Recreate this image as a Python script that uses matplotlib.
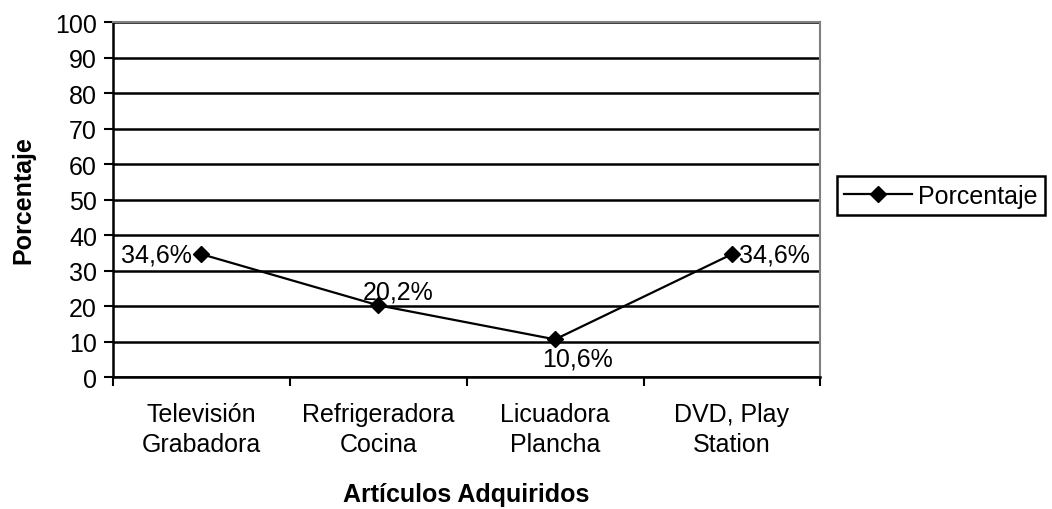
import numpy as np
import matplotlib.pyplot as plt
from matplotlib.ticker import FixedLocator

plt.rcParams['font.family'] = ['Liberation Sans', 'DejaVu Sans']

# Artículos adquiridos y porcentajes
categorias = ['Televisión\nGrabadora', 'Refrigeradora\nCocina', 'Licuadora\nPlancha', 'DVD, Play\nStation']
porcentajes = [34.6, 20.2, 10.6, 34.6]
etiquetas = ['34,6%', '20,2%', '10,6%', '34,6%']

FS = 18

fig = plt.figure(figsize=(10.52, 5.10), dpi=100)
ax = fig.add_axes([0.1074, 0.2588, 0.6724, 0.6961])

x = np.arange(len(categorias))
ax.plot(x, porcentajes, color='black', lw=1.6, marker='D', ms=8.5, label='Porcentaje', zorder=3)

# data labels (offsets in points)
offsets = [(-7, 0, 'right', 'center'), (14, 10, 'center', 'center'),
           (16, -14, 'center', 'center'), (5, 0, 'left', 'center')]
for xi, yi, txt, (dx, dy, ha, va) in zip(x, porcentajes, etiquetas, offsets):
    ax.annotate(txt, (xi, yi), xytext=(dx, dy), textcoords='offset points',
                ha=ha, va=va, fontsize=FS)

ax.set_xlim(-0.5, 3.5)
ax.set_ylim(0, 100)
ax.set_yticks(range(0, 101, 10))
ax.yaxis.grid(True, color='black', lw=1.8)
ax.set_axisbelow(True)

ax.set_xticks(x)
ax.set_xticklabels(categorias, linespacing=1.3)
ax.xaxis.set_minor_locator(FixedLocator(np.arange(-0.5, 4, 1)))
ax.tick_params(axis='x', which='major', length=0, pad=18, labelsize=FS)
ax.tick_params(axis='x', which='minor', length=6.5, width=1.5, direction='out')
ax.tick_params(axis='y', length=6.5, width=1.5, labelsize=FS, pad=5)

for s in ['left', 'bottom']:
    ax.spines[s].set_linewidth(1.8)
    ax.spines[s].set_color('black')
for s in ['top', 'right']:
    ax.spines[s].set_linewidth(1.5)
    ax.spines[s].set_color('#808080')

ax.set_xlabel('Artículos Adquiridos', fontsize=FS, fontweight='bold', labelpad=19)
ax.set_ylabel('Porcentaje', fontsize=FS, fontweight='bold', labelpad=14)

leg = ax.legend(loc='center left', bbox_to_anchor=(1.023, 0.51), fontsize=FS,
                frameon=True, fancybox=False, edgecolor='black', framealpha=1,
                handlelength=2.7, borderpad=0.3, handletextpad=0.25, borderaxespad=0)
leg.get_frame().set_linewidth(1.8)

fig.savefig('out.png', dpi=100)
